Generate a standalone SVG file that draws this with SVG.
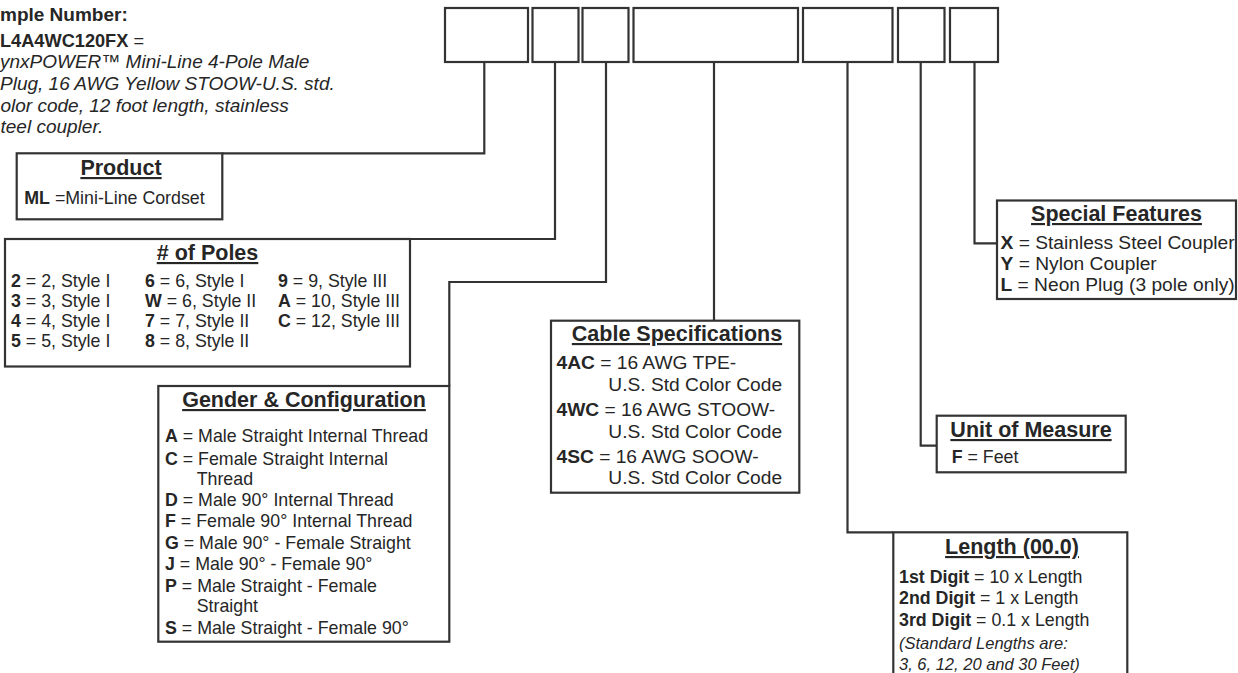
<svg xmlns="http://www.w3.org/2000/svg" width="1238" height="673" viewBox="0 0 1238 673">
<style>
text{font-family:"Liberation Sans",Arial,Helvetica,sans-serif;fill:#262626;font-size:17.8px}
.h{font-weight:bold;font-size:21.5px;text-anchor:middle;text-decoration:underline}
.b{font-weight:bold}
.i{font-style:italic}
.lg{font-size:19.2px}
.box{fill:#fff;stroke:#333;stroke-width:2.2}
.con{fill:none;stroke:#333;stroke-width:2.2}
</style>
<rect width="1238" height="673" fill="#fff"/>
<g id="sample">
<text x="0" y="21" class="b" style="font-size:19px">mple Number:</text>
<text x="0" y="47" style="font-size:18.2px"><tspan class="b">L4A4WC120FX</tspan> =</text>
<text class="i" style="font-size:19px">
<tspan x="0" y="67.5">ynxPOWER™ Mini-Line 4-Pole Male</tspan>
<tspan x="0" y="90">Plug, 16 AWG Yellow STOOW-U.S. std.</tspan>
<tspan x="0.5" y="111.5">olor code, 12 foot length, stainless</tspan>
<tspan x="0.5" y="132.5">teel coupler.</tspan>
</text>
</g>
<g id="code-boxes">
<rect class="box" x="445" y="8" width="83" height="54"/>
<rect class="box" x="532.5" y="8" width="46" height="54"/>
<rect class="box" x="582.5" y="8" width="46" height="54"/>
<rect class="box" x="633.5" y="8" width="164.5" height="54"/>
<rect class="box" x="803" y="8" width="89.5" height="54"/>
<rect class="box" x="898" y="8" width="46.5" height="54"/>
<rect class="box" x="950" y="8" width="48" height="54"/>
</g>
<g id="connectors">
<path class="con" d="M484.3,62 V153.3 H222.3"/>
<path class="con" d="M555,62 V239 H410"/>
<path class="con" d="M606,62 V282 H449.3 V386"/>
<path class="con" d="M714,62 V320.7"/>
<path class="con" d="M847.5,62 V532.3 H893.3"/>
<path class="con" d="M920.7,62 V445.7 H936.7"/>
<path class="con" d="M974.5,62 V243.3 H997"/>
</g>
<g id="product">
<rect class="box" x="16.7" y="153.3" width="205.6" height="66"/>
<text class="h" x="121" y="175">Product</text>
<text x="24.3" y="204"><tspan class="b">ML</tspan> =Mini-Line Cordset</text>
</g>
<g id="poles">
<rect class="box" x="5" y="239" width="405" height="127.5"/>
<text class="h" x="207.5" y="260"># of Poles</text>
<text x="11" y="287"><tspan class="b">2</tspan> = 2, Style I</text>
<text x="11" y="307"><tspan class="b">3</tspan> = 3, Style I</text>
<text x="11" y="327"><tspan class="b">4</tspan> = 4, Style I</text>
<text x="11" y="347"><tspan class="b">5</tspan> = 5, Style I</text>
<text x="145" y="287"><tspan class="b">6</tspan> = 6, Style I</text>
<text x="145" y="307"><tspan class="b">W</tspan> = 6, Style II</text>
<text x="145" y="327"><tspan class="b">7</tspan> = 7, Style II</text>
<text x="145" y="347"><tspan class="b">8</tspan> = 8, Style II</text>
<text x="278" y="287"><tspan class="b">9</tspan> = 9, Style III</text>
<text x="278" y="307"><tspan class="b">A</tspan> = 10, Style III</text>
<text x="278" y="327"><tspan class="b">C</tspan> = 12, Style III</text>
</g>
<g id="gender">
<rect class="box" x="158.3" y="386" width="291" height="255.7"/>
<text class="h" x="304" y="407">Gender &amp; Configuration</text>
<text x="165" y="442"><tspan class="b">A</tspan> = Male Straight Internal Thread</text>
<text x="165" y="465"><tspan class="b">C</tspan> = Female Straight Internal</text>
<text x="196.7" y="485">Thread</text>
<text x="165" y="506"><tspan class="b">D</tspan> = Male 90° Internal Thread</text>
<text x="165" y="527"><tspan class="b">F</tspan> = Female 90° Internal Thread</text>
<text x="165" y="549"><tspan class="b">G</tspan> = Male 90° - Female Straight</text>
<text x="165" y="570"><tspan class="b">J</tspan> = Male 90° - Female 90°</text>
<text x="165" y="592"><tspan class="b">P</tspan> = Male Straight - Female</text>
<text x="196.7" y="612">Straight</text>
<text x="165" y="634"><tspan class="b">S</tspan> = Male Straight - Female 90°</text>
</g>
<g id="cable">
<rect class="box" x="551" y="320.7" width="248.3" height="172"/>
<text class="h" x="677" y="341">Cable Specifications</text>
<text class="lg" x="556.5" y="369"><tspan class="b">4AC</tspan> = 16 AWG TPE-</text>
<text class="lg" x="608.3" y="391">U.S. Std Color Code</text>
<text class="lg" x="556.5" y="416"><tspan class="b">4WC</tspan> = 16 AWG STOOW-</text>
<text class="lg" x="608.3" y="437.5">U.S. Std Color Code</text>
<text class="lg" x="556.5" y="462.5"><tspan class="b">4SC</tspan> = 16 AWG SOOW-</text>
<text class="lg" x="608.3" y="484">U.S. Std Color Code</text>
</g>
<g id="special">
<rect class="box" x="997" y="200.5" width="239" height="98.5"/>
<text class="h" x="1116.5" y="221">Special Features</text>
<text class="lg" x="1000.5" y="249"><tspan class="b">X</tspan> = Stainless Steel Coupler</text>
<text class="lg" x="1000.5" y="270"><tspan class="b">Y</tspan> = Nylon Coupler</text>
<text class="lg" x="1000.5" y="291"><tspan class="b">L</tspan> = Neon Plug (3 pole only)</text>
</g>
<g id="unit">
<rect class="box" x="936.7" y="415.7" width="189" height="56.6"/>
<text class="h" x="1031" y="437">Unit of Measure</text>
<text x="951.7" y="463"><tspan class="b">F</tspan> = Feet</text>
</g>
<g id="length">
<rect class="box" x="893.3" y="532.3" width="234" height="160"/>
<text class="h" x="1012" y="554">Length (00.0)</text>
<text x="899" y="583"><tspan class="b">1st Digit</tspan> = 10 x Length</text>
<text x="899" y="604"><tspan class="b">2nd Digit</tspan> = 1 x Length</text>
<text x="899" y="626"><tspan class="b">3rd Digit</tspan> = 0.1 x Length</text>
<text x="899" y="649" class="i" style="font-size:16.5px">(Standard Lengths are:</text>
<text x="899" y="670" class="i" style="font-size:16.5px">3, 6, 12, 20 and 30 Feet)</text>
</g>
</svg>
